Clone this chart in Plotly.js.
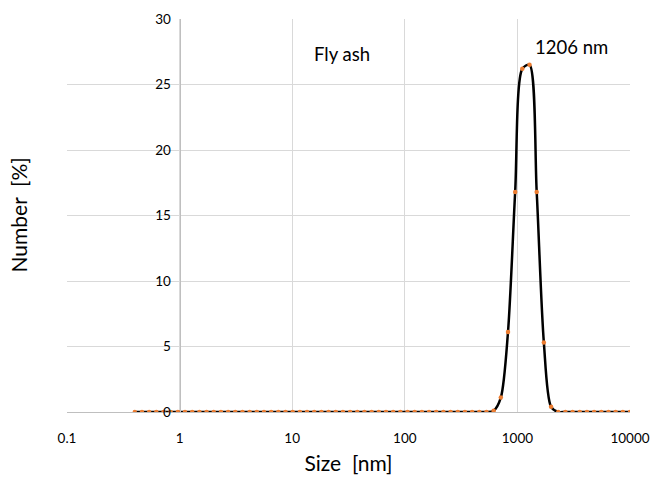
<!DOCTYPE html>
<html>
<head>
<meta charset="utf-8">
<script src="https://cdn.plot.ly/plotly-3.0.1.min.js"></script>
<style>html,body{margin:0;padding:0;background:#fff;}#chart{width:651px;height:480px;}</style>
</head>
<body>
<div id="chart"></div>
<script>
// Size classes (nm)
const sizes = [0.4, 0.4632, 0.5365, 0.6213, 0.7195, 0.8332, 0.9649, 1.117, 1.294, 1.499,
  1.736, 2.010, 2.328, 2.696, 3.122, 3.615, 4.187, 4.849, 5.615, 6.503,
  7.531, 8.721, 10.10, 11.70, 13.54, 15.69, 18.17, 21.04, 24.36, 28.21,
  32.67, 37.84, 43.82, 50.75, 58.77, 68.06, 78.82, 91.28, 105.7, 122.4,
  141.8, 164.2, 190.1, 220.2, 255.0, 295.3, 342.0, 396.1, 458.7, 531.2,
  615.1, 712.4, 825.0, 955.4, 1106, 1281, 1484, 1718, 1990, 2305,
  2669, 3091, 3580, 4145, 4801, 5560, 6439, 7456, 8635, 10000];
// Number distribution (%)
const number = [0, 0, 0, 0, 0, 0, 0, 0, 0, 0,
  0, 0, 0, 0, 0, 0, 0, 0, 0, 0,
  0, 0, 0, 0, 0, 0, 0, 0, 0, 0,
  0, 0, 0, 0, 0, 0, 0, 0, 0, 0,
  0, 0, 0, 0, 0, 0, 0, 0, 0, 0,
  0.1, 1.1, 6.1, 16.8, 26.2, 26.5, 16.8, 5.3, 0.4, 0,
  0, 0, 0, 0, 0, 0, 0, 0, 0, 0];
const xTickVals = [0.1, 1, 10, 100, 1000, 10000];
const xTickText = ['0.1', '1', '10', '100', '1000', '10000'];
const yTickVals = [0, 5, 10, 15, 20, 25, 30];

const font = 'Lato, "Open Sans", sans-serif';

const trace = {
  x: sizes, y: number, type: 'scatter', mode: 'lines+markers',
  line: {color: '#000000', width: 2.5, shape: 'spline', smoothing: 0.8},
  marker: {color: '#ED7D31', size: 4.5},
  hoverinfo: 'skip', showlegend: false
};

const layout = {
  width: 651, height: 480,
  margin: {l: 67, r: 21, t: 19, b: 68},
  paper_bgcolor: '#ffffff', plot_bgcolor: '#ffffff',
  font: {family: font, color: '#000000', size: 13},
  xaxis: {
    type: 'log', range: [-1, 4],
    tickvals: xTickVals, ticktext: xTickText,
    showgrid: true, gridcolor: '#d9d9d9', gridwidth: 1,
    showline: true, linecolor: '#bfbfbf', linewidth: 1,
    ticks: '', ticklabelstandoff: 14,
    tickfont: {family: font, size: 13.5, color: '#000'},
    zeroline: false,
    title: {text: 'Size\u00a0\u00a0[nm]', font: {family: font, size: 21, color: '#000'}, standoff: 11}
  },
  yaxis: {
    range: [0, 30], tickvals: yTickVals,
    anchor: 'free', position: 0.2,
    showgrid: true, gridcolor: '#d9d9d9', gridwidth: 1,
    showline: true, linecolor: '#bfbfbf', linewidth: 1,
    ticks: '', ticklabelstandoff: 6,
    tickfont: {family: font, size: 13.5, color: '#000'},
    zeroline: false,
    title: {text: ''}
  },
  annotations: [
    {text: 'Number\u00a0\u00a0[%]', xref: 'paper', yref: 'paper', x: -0.087, y: 0.5,
     textangle: -90, showarrow: false, font: {family: font, size: 21, color: '#000'},
     xanchor: 'center', yanchor: 'middle'},
    {text: 'Fly ash', xref: 'paper', yref: 'paper', x: 0.489, y: 0.91,
     showarrow: false, font: {family: font, size: 18.5, color: '#000'}, xanchor: 'center', yanchor: 'middle'},
    {text: '1206 nm', xref: 'paper', yref: 'paper', x: 0.896, y: 0.93,
     showarrow: false, font: {family: font, size: 18.5, color: '#000'}, xanchor: 'center', yanchor: 'middle'}
  ]
};

Plotly.newPlot('chart', [trace], layout, {staticPlot: true, displayModeBar: false});
</script>
</body>
</html>
